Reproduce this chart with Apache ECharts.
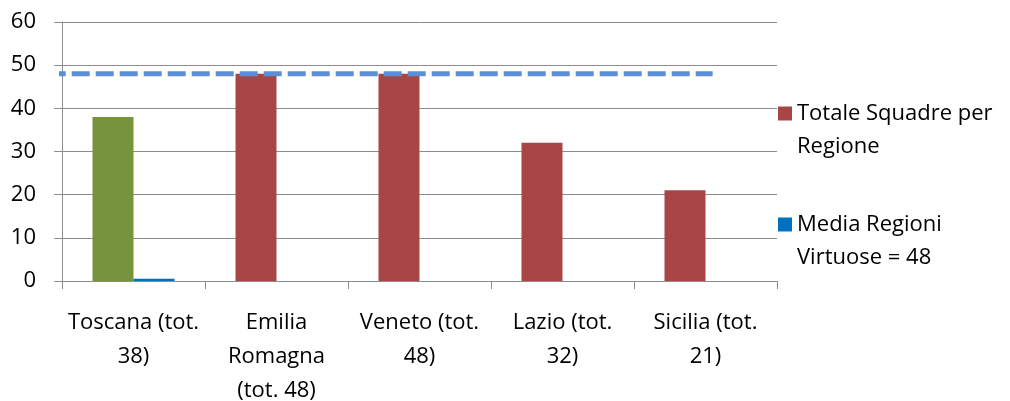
<!DOCTYPE html>
<html>
<head>
<meta charset="utf-8">
<script src="https://cdn.jsdelivr.net/npm/echarts@6/dist/echarts.min.js"></script>
<style>
  html, body { margin: 0; padding: 0; background: #fff; overflow: hidden; }
  #chart { width: 1010px; height: 401px; }
</style>
</head>
<body>
<div id="chart"></div>
<script>
// categorie (asse x)
const regioni = ['Toscana (tot.\n38)', 'Emilia\nRomagna\n(tot. 48)', 'Veneto (tot.\n48)', 'Lazio (tot.\n32)', 'Sicilia (tot.\n21)']
// serie
const totaleSquadre = [38, 48, 48, 32, 21]
const mediaVirtuose = [0.5, null, null, null, null]
// linea tratteggiata della media (x sull'asse nascosto, y = valore)
const mediaLineaX = [-0.1, 4.55]
const mediaValore = 48
const yTicks = { min: 0, max: 60, interval: 10 }

const nomeTotale = 'Totale Squadre per Regione'
const nomeMedia = 'Media Regioni Virtuose = 48'
// riga vuota davanti: cosi' la prima riga sta all'altezza del quadratino
const legendaTesti = {}
legendaTesti[nomeTotale] = ' \nTotale Squadre per\nRegione'
legendaTesti[nomeMedia] = ' \nMedia Regioni\nVirtuose = 48'

const font = "'Open Sans', 'DejaVu Sans', sans-serif"
const grigio = '#8c8c8c'

const chart = echarts.init(document.getElementById('chart'))

chart.setOption({
  animation: false,
  grid: { left: 62, width: 715, top: 22, height: 259, containLabel: false, outerBoundsMode: 'none' },
  legend: {
    orient: 'vertical',
    left: 778,
    top: 64,
    padding: 0,
    itemWidth: 14,
    itemHeight: 14,
    itemGap: 12,
    icon: 'rect',
    data: [nomeTotale, nomeMedia],
    formatter: (name) => legendaTesti[name],
    textStyle: {
      fontFamily: font,
      fontSize: 22,
      lineHeight: 33,
      color: '#000'
    }
  },
  xAxis: [
    {
      type: 'category',
      data: regioni,
      boundaryGap: true,
      axisLine: { lineStyle: { color: grigio, width: 1 } },
      axisTick: { show: true, length: 8, alignWithLabel: false, lineStyle: { color: grigio } },
      axisLabel: {
        interval: 0,
        margin: 25,
        fontFamily: font,
        fontSize: 22,
        lineHeight: 34,
        color: '#000',
        align: 'center'
      },
      splitLine: { show: false }
    },
    {
      type: 'value',
      min: 0,
      max: 5,
      show: false
    }
  ],
  yAxis: {
    type: 'value',
    min: yTicks.min,
    max: yTicks.max,
    interval: yTicks.interval,
    axisLine: { show: true, lineStyle: { color: grigio, width: 1 } },
    axisTick: { show: true, length: 8, lineStyle: { color: grigio } },
    axisLabel: { margin: 26, fontFamily: font, fontSize: 22, color: '#000' },
    splitLine: { show: true, lineStyle: { color: grigio, width: 1 } }
  },
  series: [
    {
      name: nomeTotale,
      type: 'bar',
      barWidth: 41,
      barGap: '0%',
      itemStyle: { color: '#a84646' },
      data: totaleSquadre.map((v, i) => i === 0 ? { value: v, itemStyle: { color: '#77933c' } } : v)
    },
    {
      name: nomeMedia,
      type: 'bar',
      barWidth: 41,
      barGap: '0%',
      itemStyle: { color: '#0070c0' },
      data: mediaVirtuose
    },
    {
      name: 'linea media',
      type: 'line',
      xAxisIndex: 1,
      clip: false,
      symbol: 'none',
      silent: true,
      z: 5,
      lineStyle: { color: '#5a8ed8', width: 5, type: [18, 6] },
      data: mediaLineaX.map(x => [x, mediaValore])
    }
  ]
})
</script>
</body>
</html>
